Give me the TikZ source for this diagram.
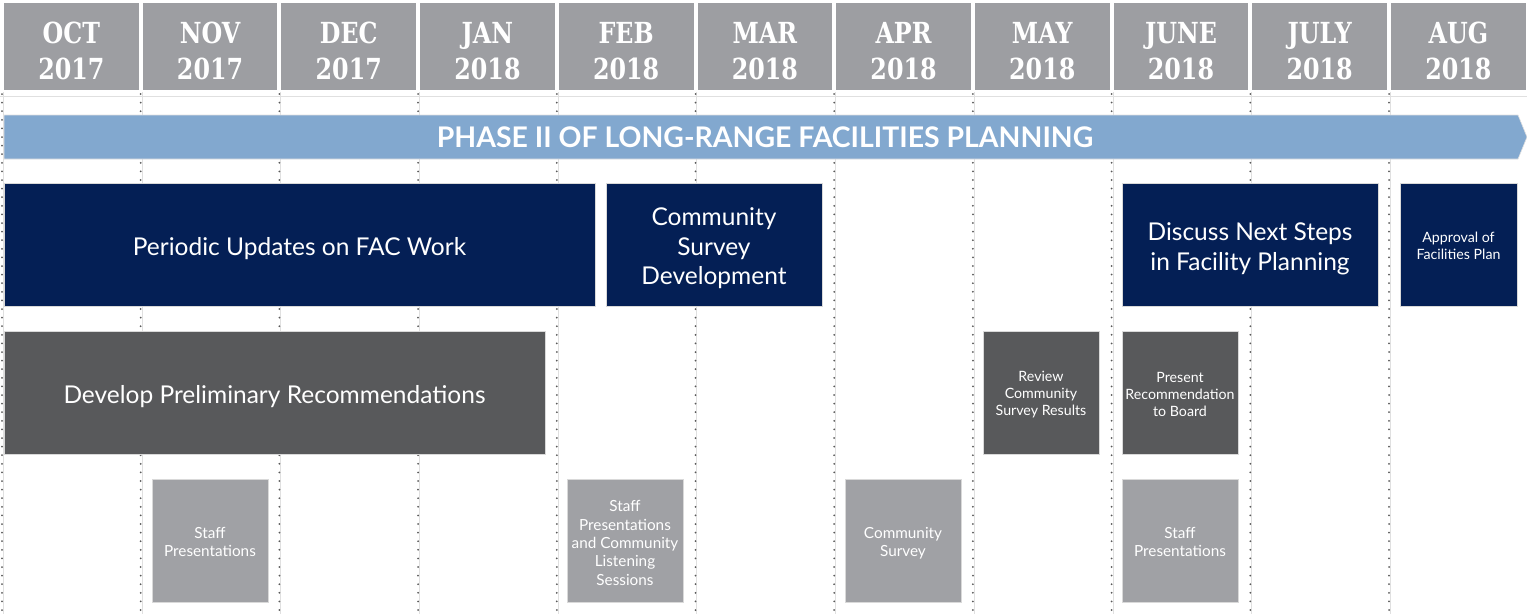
\documentclass[tikz,border=0pt]{standalone}
\usepackage{fontspec}
\setmainfont{Lato}
\newfontfamily\slab[FakeStretch=0.82]{DejaVu Serif}
\definecolor{headgray}{HTML}{9D9EA2}
\definecolor{phaseblue}{HTML}{82A8CF}
\definecolor{navy}{HTML}{041F55}
\definecolor{darkgr}{HTML}{58595B}
\definecolor{lightgr}{HTML}{A0A1A5}

\begin{document}
\begin{tikzpicture}[
		x=1pt, y=-1pt,
		month/.style	={ fill=headgray, inner sep=0pt, outer sep=0pt,
			minimum width=134.7pt, minimum height=87pt
		},
		monthtext/.style	={ text=white, align=center, inner sep=0pt,
			font=\slab\bfseries\fontsize{29}{36}\selectfont
		},
		sepline/.style	={ draw=black!65, line width=2pt, line cap=round,
			dash pattern=on 0pt off 8.6pt
		},
		task/.style		={ inner sep=0pt, outer sep=0pt,
			draw=black!15, line width=0.5pt, minimum height=123pt
		},
		tasktext/.style	={ text=white, align=center, inner sep=0pt },
		bigtext/.style	={ tasktext, font=\fontsize{24.5}{29.5}\selectfont },
		smalltext/.style	={ tasktext, font=\fontsize{14.2}{17.2}\selectfont },
		lighttext/.style	={ tasktext, font=\fontsize{15.3}{18.3}\selectfont },
		small/.style	={ task, minimum width=116pt },
	]

	\useasboundingbox (0,0) rectangle (1527,614);

	\def\mymonths{	0/OCT/2017, 1/NOV/2017, 2/DEC/2017, 3/JAN/2018,
									4/FEB/2018, 5/MAR/2018, 6/APR/2018, 7/MAY/2018,
									8/JUNE/2018, 9/JULY/2018, 10/AUG/2018}

	% month headers and separators
	\foreach \num/\mon/\yr in \mymonths {
			\node (m\num) [month] at ({71.35+138.7*\num},46.5) {};
			\node (mt\num) [monthtext] at ([yshift=-4.5pt]m\num.center) {\mon\\\yr};
			\draw [black!12, line width=0.6pt] ({3.2+138.7*\num},92) -- ++(0,522);
			\draw [sepline] ({2+138.7*\num},94) -- ++(0,520);
		}
	\draw [black!12, line width=0.8pt] (0,96.5) -- (1527,96.5);

	% phase bar
	\filldraw [fill=phaseblue, draw=black!12, line width=0.6pt]
			(4,115) -- (1518,115) -- (1527,137) -- (1518,159) -- (4,159) -- cycle;
	\node (phase) at (765,137) [text=white, inner sep=0pt,
			font=\bfseries\fontsize{28.4}{32}\selectfont]
			{PHASE II OF LONG-RANGE FACILITIES PLANNING};

	% navy row
	\node (upd) [task, fill=navy, minimum width=591pt] at (299.5,244.5) {};
	\node (updt) [bigtext] at ([yshift=-4pt]upd.center) {Periodic Updates on FAC Work};
	\node (csd) [task, fill=navy, minimum width=216pt] at (714,244.5) {};
	\node (csdt) [bigtext] at ([yshift=-4pt]csd.center) {Community\\Survey\\Development};
	\node (nxt) [task, fill=navy, minimum width=256pt] at (1250,244.5) {};
	\node (nxtt) [bigtext] at ([yshift=-4.5pt]nxt.center)
			{Discuss Next Steps\\in Facility Planning};
	\node (apr) [task, fill=navy, minimum width=117pt] at (1458.5,244.5) {};
	\node (aprt) [smalltext] at ([yshift=-1.5pt]apr.center) {Approval of\\Facilities Plan};

	% dark gray row
	\node (dpr) [task, fill=darkgr, minimum width=541pt] at (274.5,392.5) {};
	\node (dprt) [bigtext] at ([yshift=-4pt]dpr.center) {Develop Preliminary Recommendations};
	\node (rev) [small, fill=darkgr] at (1041,392.5) {};
	\node (revt) [smalltext] at ([yshift=-2pt]rev.center) {Review\\Community\\Survey Results};
	\node (prs) [small, fill=darkgr] at (1180,392.5) {};
	\node (prst) [smalltext] at ([yshift=-2pt]prs.center) {Present\\Recommendation\\to Board};

	% light gray row
	\node (sp1) [small, fill=lightgr] at (210,540.5) {};
	\node (sp1t) [lighttext] at ([yshift=-1.5pt]sp1.center) {Staff\\Presentations};
	\node (spc) [small, fill=lightgr] at (625,540.5) {};
	\node (spct) [lighttext] at ([yshift=-2.5pt]spc.center)
			{Staff\\Presentations\\and Community\\Listening\\Sessions};
	\node (cs) [small, fill=lightgr] at (903,540.5) {};
	\node (cst) [lighttext] at ([yshift=-2.5pt]cs.center) {Community\\Survey};
	\node (sp2) [small, fill=lightgr] at (1180,540.5) {};
	\node (sp2t) [lighttext] at ([yshift=-1.5pt]sp2.center) {Staff\\Presentations};

\end{tikzpicture}
\end{document}
